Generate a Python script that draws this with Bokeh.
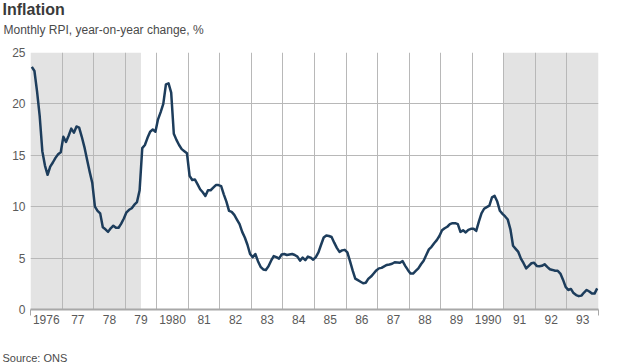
from bokeh.plotting import figure
from bokeh.models import BoxAnnotation, FixedTicker, ColumnDataSource, Range1d, Title
from bokeh.embed import file_html
from bokeh.resources import INLINE

# ---- data (monthly RPI, year-on-year change, %) ----
years = list(range(1976, 1994))
r1976 = [23.6, 23.2, 21.2, 18.8, 15.4, 14.0, 13.1, 13.9, 14.3, 14.75, 15.1, 15.3]
r1977 = [16.8, 16.3, 16.9, 17.6, 17.2, 17.8, 17.7, 16.8, 15.8, 14.6, 13.4, 12.3]
r1978 = [10.0, 9.6, 9.35, 8.0, 7.8, 7.55, 7.9, 8.15, 7.95, 7.95, 8.35, 8.85]
r1979 = [9.45, 9.7, 9.85, 10.2, 10.45, 11.6, 15.7, 16.0, 16.7, 17.3, 17.5, 17.3]
r1980 = [18.5, 19.2, 20.0, 21.9, 22.0, 21.1, 17.1, 16.5, 16.0, 15.6, 15.4, 15.2]
r1981 = [13.0, 12.6, 12.65, 12.2, 11.7, 11.4, 11.05, 11.6, 11.6, 11.85, 12.1, 12.1]
r1982 = [12.0, 11.2, 10.5, 9.6, 9.5, 9.2, 8.75, 8.3, 7.55, 7.0, 6.3, 5.4]
r1983 = [5.1, 5.4, 4.7, 4.15, 3.9, 3.85, 4.2, 4.75, 5.2, 5.1, 4.95, 5.35]
r1984 = [5.4, 5.3, 5.35, 5.4, 5.3, 5.15, 4.75, 5.05, 4.8, 5.15, 5.05, 4.85]
r1985 = [5.1, 5.55, 6.3, 7.0, 7.2, 7.15, 7.05, 6.5, 6.0, 5.6, 5.75, 5.8]
r1986 = [5.55, 4.7, 3.8, 3.0, 2.85, 2.7, 2.55, 2.6, 3.0, 3.2, 3.5, 3.8]
r1987 = [4.0, 4.05, 4.2, 4.33, 4.38, 4.45, 4.6, 4.58, 4.55, 4.7, 4.25, 3.85]
r1988 = [3.5, 3.5, 3.75, 4.0, 4.4, 4.75, 5.3, 5.85, 6.1, 6.45, 6.75, 7.15]
r1989 = [7.7, 7.9, 8.05, 8.3, 8.4, 8.4, 8.3, 7.55, 7.7, 7.5, 7.75, 7.85]
r1990 = [7.85, 7.65, 8.55, 9.35, 9.8, 9.96, 10.1, 10.9, 11.05, 10.5, 9.6, 9.3]
r1991 = [9.05, 8.75, 7.8, 6.2, 5.9, 5.6, 4.95, 4.5, 4.0, 4.25, 4.5, 4.55]
r1992 = [4.24, 4.2, 4.25, 4.4, 4.15, 3.92, 3.85, 3.77, 3.76, 3.5, 2.9, 2.2]
r1993 = [1.9, 2.0, 1.6, 1.4, 1.3, 1.35, 1.65, 1.9, 1.75, 1.55, 1.55, 2.05]
series = [r1976, r1977, r1978, r1979, r1980, r1981, r1982, r1983, r1984,
          r1985, r1986, r1987, r1988, r1989, r1990, r1991, r1992, r1993]

tick_labels = ["1976", "77", "78", "79", "1980", "81", "82", "83", "84",
               "85", "86", "87", "88", "89", "1990", "91", "92", "93"]
y_ticks = [0, 5, 10, 15, 20, 25]

# shaded periods (fractional years)
shade_start = [1976.0, 1991.0]
shade_end = [1979.5, 1994.0]

title_text = "Inflation"
subtitle_text = "Monthly RPI, year-on-year change, %"
source_text = "Source: ONS"

# ---- build ----
x, y = [], []
for yr, vals in zip(years, series):
    for m, v in enumerate(vals):
        x.append(yr + (m + 0.5) / 12.0)
        y.append(v)
src = ColumnDataSource(dict(x=x, y=y))

FONT = "Liberation Sans"

p = figure(width=616, height=363, output_backend="svg", toolbar_location=None,
           x_range=Range1d(years[0], years[-1] + 1), y_range=Range1d(0, 25),
           min_border_left=30, min_border_right=18, min_border_top=51,
           min_border_bottom=52)
p.outline_line_color = None
p.background_fill_color = "white"
p.border_fill_color = "white"

# titles: added "above" panels stack outward from the frame; plot title outermost
p.title.text = title_text
p.title.align = "left"
p.title.offset = -28
p.title.text_font = FONT
p.title.text_font_size = "16px"
p.title.text_font_style = "bold"
p.title.text_color = "#3a3a3a"
p.title.standoff = -4
p.add_layout(Title(text=" ", align="left", text_font=FONT,
                   text_font_size="8px", text_font_style="normal",
                   standoff=0), "above")
p.add_layout(Title(text=subtitle_text, align="left", offset=-27, text_font=FONT,
                   text_font_size="12px", text_font_style="normal",
                   text_color="#4a4a4a", standoff=10), "above")

for s, e in zip(shade_start, shade_end):
    p.add_layout(BoxAnnotation(left=s, right=e, fill_color="#e3e3e3",
                               fill_alpha=1.0, line_color=None, level="image"))

# grids
p.xgrid.ticker = FixedTicker(ticks=years + [years[-1] + 1])
p.ygrid.ticker = FixedTicker(ticks=y_ticks[1:])
for g in (p.xgrid, p.ygrid):
    g.grid_line_color = "#b8b8b8"
    g.grid_line_width = 1

# x axis
mids = [yr + 0.5 for yr in years]
xa = p.xaxis[0]
xa.ticker = FixedTicker(ticks=mids, minor_ticks=[years[0], years[-1] + 1])
xa.major_label_overrides = {m: lab for m, lab in zip(mids, tick_labels)}
xa.axis_line_color = "#a8a8a8"
xa.axis_line_width = 2
xa.major_tick_line_color = None
xa.major_tick_out = 0
xa.major_tick_in = 0
xa.minor_tick_line_color = "#a8a8a8"
xa.minor_tick_out = 6
xa.minor_tick_in = 0
xa.major_label_standoff = -1
xa.major_label_text_font = FONT
xa.major_label_text_font_size = "12px"
xa.major_label_text_color = "#5a5a5a"

ya = p.yaxis[0]
ya.ticker = FixedTicker(ticks=y_ticks)
ya.axis_line_color = None
ya.major_tick_line_color = None
ya.minor_tick_line_color = None
ya.major_tick_out = 0
ya.major_tick_in = 0
ya.major_label_standoff = 5
ya.major_label_text_font = FONT
ya.major_label_text_font_size = "12px"
ya.major_label_text_color = "#5a5a5a"

p.line("x", "y", source=src, line_color="#1d3d5c", line_width=2.5,
       line_join="round")

# below: axis, spacer, source
p.add_layout(Title(text=" ", align="left", text_font=FONT,
                   text_font_size="10px", text_font_style="normal",
                   standoff=10), "below")
p.add_layout(Title(text=source_text, align="left", offset=-28, text_font=FONT,
                   text_font_size="11px", text_font_style="normal",
                   text_color="#4a4a4a", standoff=0), "below")

open("out.html", "w").write(file_html(p, INLINE))
